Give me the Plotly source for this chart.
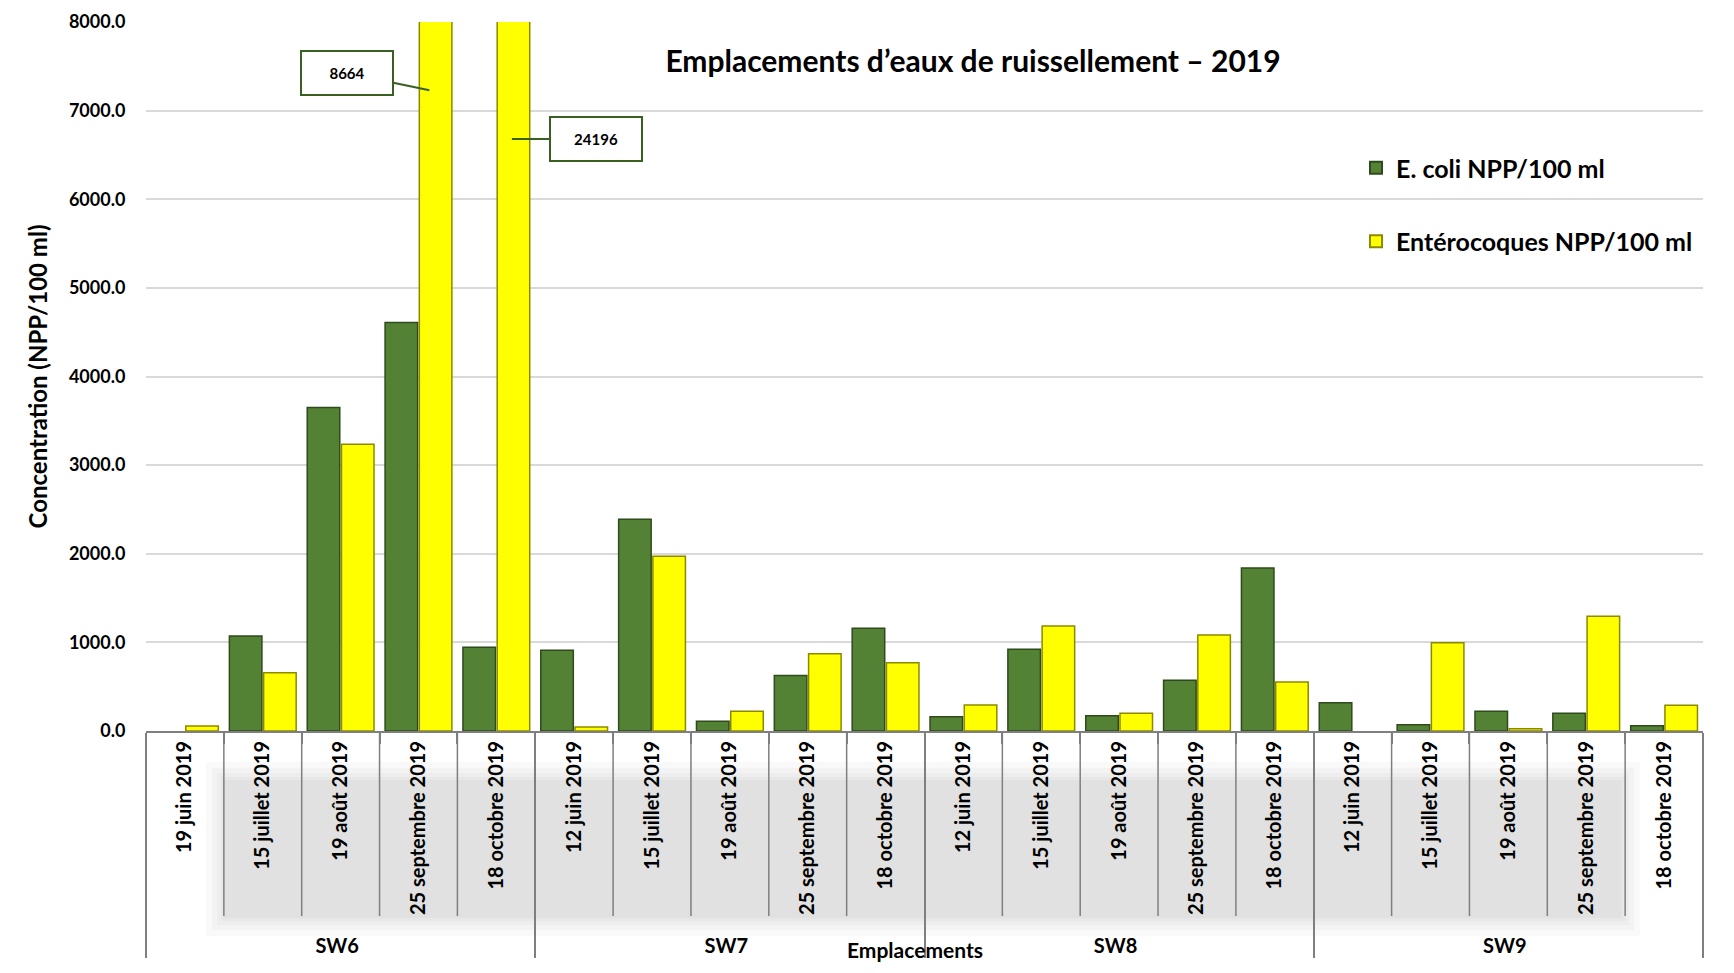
import plotly.graph_objects as go

groups = ["SW6"] * 5 + ["SW7"] * 5 + ["SW8"] * 5 + ["SW9"] * 5
dates = [
    "19 juin 2019", "15 juillet 2019", "19 août 2019", "25 septembre 2019", "18 octobre 2019",
    "12 juin 2019", "15 juillet 2019", "19 août 2019", "25 septembre 2019", "18 octobre 2019",
    "12 juin 2019", "15 juillet 2019", "19 août 2019", "25 septembre 2019", "18 octobre 2019",
    "12 juin 2019", "15 juillet 2019", "19 août 2019", "25 septembre 2019", "18 octobre 2019",
]
ecoli = [None, 1072, 3649, 4608, 944,
         910, 2389, 109, 625, 1159,
         162, 922, 173, 572, 1840,
         320, 71, 222, 199, 60]
entero = [56, 658, 3235, 8664, 24196,
          45, 1971, 222, 873, 771,
          293, 1185, 199, 1084, 553,
          None, 997, 26, 1294, 290]
series_names = ["E. coli NPP/100 ml", "Entérocoques NPP/100 ml"]
title_text = "Emplacements d’eaux de ruissellement – 2019"
y_title = "Concentration (NPP/100 ml)"
x_title = "Emplacements"
y_ticks = [0, 1000, 2000, 3000, 4000, 5000, 6000, 7000, 8000]

FONT = "Lato"
OFF = 8  # default page margin of the html body
W, H = 1734 - 2 * OFF, 973 - 2 * OFF
# desired plot box in page pixels: x 146..1703, y 22..731
L, T = 146 - OFF, 22 - OFF
R = (OFF + W) - 1703
B = (OFF + H) - 731
pw, ph = W - L - R, H - T - B

def px2paper(x, y):
    """page pixel -> paper coordinates"""
    return (x - OFF - L) / pw, (H + OFF - B - y) / ph

fig = go.Figure()
# invisible helper so that the multicategory axis keeps the date order of each site
# (inner labels are ordered by first appearance: "19 juin" and "12 juin" must come first)
first_of_group = [i for i in range(len(groups)) if i == 0 or groups[i] != groups[i - 1]]
fig.add_trace(go.Scatter(
    x=[[groups[i] for i in first_of_group], [dates[i] for i in first_of_group]],
    y=[None] * len(first_of_group), mode="markers", showlegend=False, hoverinfo="skip",
))
fig.add_trace(go.Bar(
    x=[groups, dates], y=ecoli, name=series_names[0], legendgroup="a",
    marker=dict(color="#548235", line=dict(color="#2f4a1c", width=1.5)),
))
fig.add_trace(go.Bar(
    x=[groups, dates], y=entero, name=series_names[1], legendgroup="b",
    marker=dict(color="#ffff00", line=dict(color="#8a8a00", width=1.5)),
))

shapes = []
# soft grey shadow behind the category labels
for pad in [18, 12, 7, 3, 0]:
    x0, y0 = px2paper(224 - pad, 780 - pad)
    x1, y1 = px2paper(1622 + pad, 918 + pad)
    shapes.append(dict(type="rect", xref="paper", yref="paper", x0=x0, y0=y0, x1=x1, y1=y1,
                       fillcolor="rgba(0,0,0,0.022)", line=dict(width=0), layer="below"))
# separators between the date labels
_, ysep = px2paper(0, 916)
for i in range(len(dates) - 1):
    if groups[i] == groups[i + 1]:
        shapes.append(dict(type="line", xref="x", yref="paper", x0=i + 0.5, x1=i + 0.5,
                           y0=0, y1=ysep, line=dict(color="#7f7f7f", width=1.5)))
# outer chart border
bx0, by0 = px2paper(6, 5)
bx1, by1 = px2paper(1740, 980)
shapes.append(dict(type="rect", xref="paper", yref="paper", x0=bx0, y0=by1, x1=bx1, y1=by0,
                   line=dict(color="#d9d9d9", width=1.5), fillcolor="rgba(0,0,0,0)", layer="below"))

idx_sept = dates.index("25 septembre 2019")
idx_oct = dates.index("18 octobre 2019")
ex, ey = px2paper(915, 949)
annotations = [
    dict(x=idx_sept + 0.14, y=7230, xref="x", yref="y", text="8664",
         showarrow=True, arrowhead=0, arrowwidth=2, arrowcolor="#3a5f22",
         ax=-82, ay=-17, bordercolor="#3a5f22", borderwidth=2, borderpad=4,
         bgcolor="white", width=82, height=34,
         font=dict(family=FONT, size=15, color="black", weight="bold")),
    dict(x=idx_oct + 0.2, y=6680, xref="x", yref="y", text="24196",
         showarrow=True, arrowhead=0, arrowwidth=2, arrowcolor="#3a5f22",
         ax=84, ay=0, bordercolor="#3a5f22", borderwidth=2, borderpad=4,
         bgcolor="white", width=82, height=34,
         font=dict(family=FONT, size=15, color="black", weight="bold")),
    dict(x=ex, y=ey, xref="paper", yref="paper", text=x_title,
         showarrow=False, yanchor="middle", xanchor="center",
         font=dict(family=FONT, size=21, color="black", weight="bold")),
]

tx, ty = 973 - OFF, 61 - OFF
fig.update_layout(
    width=W, height=H,
    margin=dict(l=L, r=R, t=T, b=B),
    paper_bgcolor="white", plot_bgcolor="white",
    barmode="group", bargap=0.12, bargroupgap=0.05,
    font=dict(family=FONT, color="black"),
    title=dict(text=title_text, x=tx / W, y=1 - ty / H, xanchor="center",
               yanchor="middle", font=dict(family=FONT, size=30, color="black", weight="bold")),
    legend=dict(x=px2paper(1356, 0)[0], y=px2paper(0, 145)[1], xanchor="left", yanchor="top",
                bgcolor="rgba(0,0,0,0)",
                font=dict(family=FONT, size=25, color="black", weight="bold"),
                tracegroupgap=38, itemsizing="constant"),
    shapes=shapes,
    annotations=annotations,
)
fig.update_yaxes(
    range=[0, 8000], tickvals=y_ticks, tickformat=".1f", automargin=False,
    showgrid=True, gridcolor="#d9d9d9", gridwidth=2, zeroline=False,
    tickfont=dict(family=FONT, size=18, color="black", weight="bold"),
    ticks="outside", ticklen=16, tickcolor="rgba(0,0,0,0)",
    title=dict(text=y_title, font=dict(family=FONT, size=24, color="black", weight="bold"),
               standoff=14),
)
fig.update_xaxes(
    type="multicategory", automargin=False,
    range=[-0.5, len(dates) - 0.5],
    showline=True, linecolor="#7f7f7f", linewidth=2,
    ticks="outside", ticklen=11, tickcolor="#7f7f7f", tickwidth=1.5,
    showdividers=True, dividercolor="#7f7f7f", dividerwidth=1.5,
    tickangle=-90,
    tickfont=dict(family=FONT, size=20, color="black", weight="bold"),
)

fig.write_html("out.html")
